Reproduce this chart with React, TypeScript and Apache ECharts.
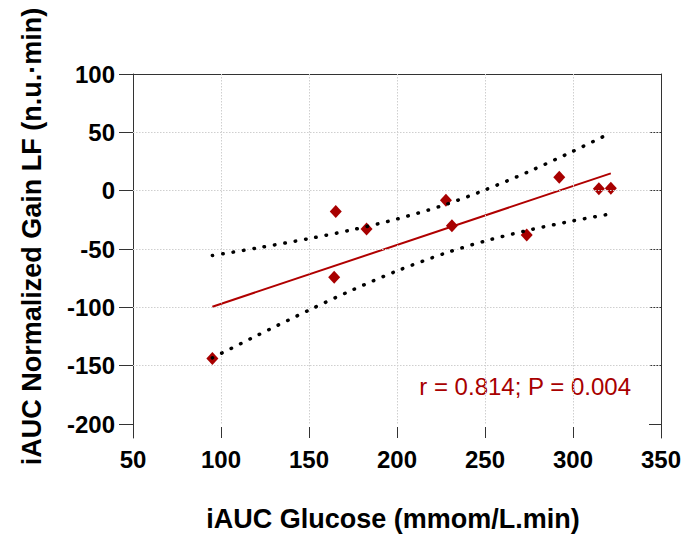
import React, { useEffect, useRef } from "react";
import * as echarts from "echarts";

const glucoseIAUC = [95.1, 164.3, 165.2, 182.7, 227.8, 231.2, 273.7, 292.2, 314.7, 321.5];
const gainLF = [-143.9, -74.2, -17.9, -32.8, -8.3, -30.1, -37.9, 11.5, 1.7, 2.0];

// Regression line end points
const fitX = [95.1, 321.5];
const fitY = [-99.5, 14.8];

// 95% confidence band
const bandX = [95.1, 120, 150, 175, 200, 227, 250, 275, 300, 321.5];
const bandUpper = [-55.6, -49.3, -41.1, -33.4, -24.3, -12.2, 0.6, 16.4, 33.8, 49.5];
const bandLower = [-143.3, -124.5, -102.4, -84.9, -68.8, -53.8, -43.2, -33.8, -25.9, -19.9];

// Axes
const xTicks = [50, 100, 150, 200, 250, 300, 350];
const yTicks = [-200, -150, -100, -50, 0, 50, 100];
const xGrid = [100, 150, 200, 250, 300];
const yGrid = [-150, -100, -50, 0, 50];
const xMin = 50, xMax = 350, yMin = -212, yMax = 100, yGridBottom = -200;

const xTitle = "iAUC Glucose (mmom/L.min)";
const yTitle = "iAUC Normalized Gain LF (n.u.·min)";
const statText = "r = 0.814; P = 0.004";

const FONT = '"Liberation Sans", Arial, sans-serif';
const RED = "#A80000";

export default function App() {
  const ref = useRef<HTMLDivElement>(null);
  useEffect(() => {
    if (!ref.current) return;
    const chart = echarts.init(ref.current, null, { renderer: "svg" });
    const gridLines: any[] = [];
    yGrid.forEach((v) => gridLines.push([{ coord: [xMin, v] }, { coord: [xMax, v] }]));
    xGrid.forEach((v) => gridLines.push([{ coord: [v, yMax] }, { coord: [v, yGridBottom] }]));
    const axisLineStyle = { color: "#333", width: 1 };
    const option: any = {
      animation: false,
      backgroundColor: "#fff",
      grid: { left: 133, right: 25, top: 74, bottom: 98, containLabel: false },
      xAxis: [
        {
          type: "value", min: xMin, max: xMax, interval: 50, position: "bottom",
          axisLine: { show: false, onZero: false },
          axisTick: { show: true, inside: true, length: 11, lineStyle: axisLineStyle },
          axisLabel: { fontFamily: FONT, fontWeight: "bold", fontSize: 24, color: "#000", margin: 9, customValues: xTicks },
          splitLine: { show: false },
        },
        {
          type: "value", min: xMin, max: xMax, position: "top",
          axisLine: { show: true, onZero: false, lineStyle: axisLineStyle },
          axisTick: { show: false }, axisLabel: { show: false }, splitLine: { show: false },
        },
      ],
      yAxis: [
        {
          type: "value", min: yMin, max: yMax, position: "left",
          axisLine: { show: true, onZero: false, lineStyle: axisLineStyle },
          axisTick: { show: true, inside: false, length: 14, lineStyle: axisLineStyle, customValues: yTicks },
          axisLabel: { fontFamily: FONT, fontWeight: "bold", fontSize: 24, color: "#000", margin: 18, customValues: yTicks },
          splitLine: { show: false },
        },
        {
          type: "value", min: yMin, max: yMax, position: "right",
          axisLine: { show: true, onZero: false, lineStyle: axisLineStyle },
          axisTick: { show: true, inside: true, length: 12, lineStyle: axisLineStyle, customValues: yTicks },
          axisLabel: { show: false },
          splitLine: { show: false },
        },
      ],
      series: [
        {
          type: "line", xAxisIndex: 0, yAxisIndex: 0, z: 1,
          data: [[xMin, yMax]], symbol: "none", lineStyle: { opacity: 0 },
          markLine: {
            silent: true, symbol: "none", label: { show: false },
            lineStyle: { color: "#cfcfcf", width: 1, type: [1.5, 1.5] },
            data: gridLines,
          },
        },
        {
          type: "line", z: 3, symbol: "none",
          data: fitX.map((x, i) => [x, fitY[i]]),
          lineStyle: { color: "#B00000", width: 2 },
        },
        {
          type: "scatter", z: 4, symbol: "diamond", symbolSize: [12, 13],
          data: glucoseIAUC.map((x, i) => [x, gainLF[i]]),
          itemStyle: { color: RED, opacity: 1 },
        },
        {
          type: "line", z: 5, symbol: "none", smooth: 0.3,
          data: bandX.map((x, i) => [x, bandUpper[i]]),
          lineStyle: { color: "#000", width: 3.5, type: [0.5, 10], cap: "round" },
        },
        {
          type: "line", z: 5, symbol: "none", smooth: 0.3,
          data: bandX.map((x, i) => [x, bandLower[i]]),
          lineStyle: { color: "#000", width: 3.5, type: [0.5, 10], cap: "round" },
        },
      ],
      graphic: [
        {
          type: "text", x: 32, y: 236.5, rotation: Math.PI / 2,
          style: {
            text: yTitle, fontFamily: FONT, fontWeight: "bold", fontSize: 27, fill: "#000",
            textAlign: "center", textVerticalAlign: "middle", align: "center", verticalAlign: "middle",
          },
        },
        {
          type: "text", x: 393, y: 519,
          style: {
            text: xTitle, fontFamily: FONT, fontWeight: "bold", fontSize: 27, fill: "#000",
            textAlign: "center", textVerticalAlign: "middle", align: "center", verticalAlign: "middle",
          },
        },
        {
          type: "text", x: 631, y: 386,
          style: {
            text: statText, fontFamily: FONT, fontSize: 24, fill: RED,
            textAlign: "right", textVerticalAlign: "middle", align: "right", verticalAlign: "middle",
          },
        },
      ],
    };
    chart.setOption(option);
    return () => chart.dispose();
  }, []);
  return (
    <div
      ref={ref}
      style={{ position: "fixed", left: 0, top: 0, width: 686, height: 536, background: "#fff" }}
    />
  );
}
